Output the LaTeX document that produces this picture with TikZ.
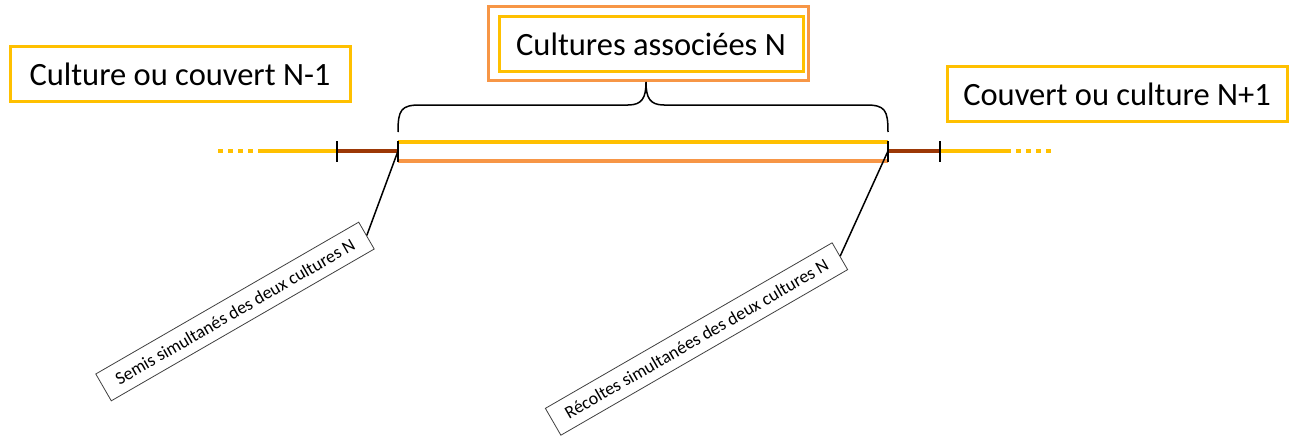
\documentclass[tikz,border=0pt]{standalone}
\usepackage{fontspec}
\setmainfont{Carlito}
\usepackage{tikz}
\usetikzlibrary{positioning,calc}
\definecolor{jaune}{RGB}{255,192,0}
\definecolor{orange}{RGB}{247,150,70}
\definecolor{brun}{RGB}{156,56,6}

\begin{document}
\begin{tikzpicture}[x = 1pt, y = -1pt,
    titre/.style = {draw = jaune, line width = 3pt, minimum width = 340pt, minimum height = 54pt, inner sep = 0pt, font = \fontsize{32.5}{39}\selectfont},
    bulle/.style = {draw = black!75, line width = .8pt, fill = white, rotate = 30, inner xsep = 15pt, inner ysep = 0pt, minimum height = 31pt, font = \fontsize{18}{22}\selectfont},
    trait/.style = {line width = 4.5pt},
    tiret/.style = {line width = 2.5pt, black}]
    \useasboundingbox (0,0) rectangle (1291,436);
    \node[titre] (avant) at (180,74) {Culture ou couvert N-1};
    \node[titre] (apres) at (1117,94) {Couvert ou culture N+1};
    \node[titre, minimum width = 304pt, minimum height = 55pt] (assoc) at (651,44.5) {Cultures associées N};
    \node[draw = orange, line width = 3pt, minimum width = 320pt, minimum height = 74pt] (cadre) at (648,44) {};
    \coordinate (a0) at (218,151);
    \coordinate (a1) at (260,151);
    \coordinate (t1) at (337,151);
    \coordinate (s) at (398,151);
    \coordinate (r) at (888,151);
    \coordinate (t2) at (940,151);
    \coordinate (b1) at (1006,151);
    \coordinate (b0) at (1053,151);
    \draw[trait, jaune, dash pattern = on 5pt off 5pt] (a0) -- (a1);
    \draw[trait, jaune] (a1) -- (t1);
    \draw[trait, brun] (t1) -- (s);
    \draw[trait, brun] (r) -- (t2);
    \draw[trait, jaune] (t2) -- (b1);
    \draw[trait, jaune, dash pattern = on 5pt off 5pt] (b1) -- (b0);
    \draw[trait, jaune] ($(s)+(0,-9)$) -- ($(r)+(0,-9)$);
    \draw[trait, orange] ($(s)+(0,10)$) -- ($(r)+(0,10)$);
    \foreach \p in {t1, s, r, t2}
        \draw[tiret] ($(\p)+(0,-10)$) -- ($(\p)+(0,11)$);
    \draw[line width = 1.5pt] (398,132) .. controls (398,110) and (401,105) .. (420,105) -- (628,105)
        .. controls (642,105) and (646,98) .. (646,82) .. controls (646,98) and (650,105) .. (664,105)
        -- (866,105) .. controls (885,105) and (888,110) .. (888,132);
    \node[bulle] (semis) at (235,311.5) {Semis simultanés des deux cultures N};
    \node[bulle] (recolte) at (696.5,339) {Récoltes simultanées des deux cultures N};
    \draw[line width = 1.5pt] (s) -- (semis.east);
    \draw[line width = 1.5pt] (r) -- (recolte.east);
\end{tikzpicture}
\end{document}
